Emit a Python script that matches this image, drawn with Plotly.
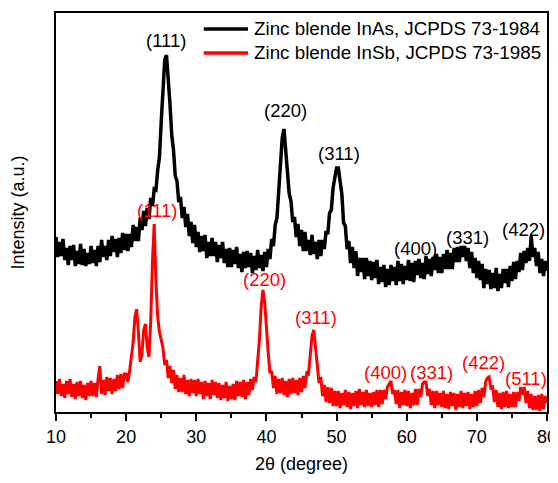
import numpy as np
import plotly.graph_objects as go

# 2-theta sampling grid (degrees), step 0.25
two_theta = np.round(np.arange(10.0, 80.0001, 0.25), 2)

# Zinc blende InAs (black), intensity a.u.
inas = [
    175, 155, 170, 156, 173, 152, 164, 147, 166, 152, 167, 146, 161, 148, 168, 147, 163, 146, 159, 148,
    166, 149, 162, 146, 166, 150, 172, 155, 166, 152, 172, 156, 176, 160, 173, 155, 174, 159, 179, 162,
    178, 161, 178, 165, 187, 171, 185, 171, 194, 182, 201, 186, 204, 193, 214, 206, 223, 222, 242, 255,
    290, 327, 352, 357, 336, 308, 277, 262, 236, 231, 210, 215, 194, 205, 185, 198, 176, 190, 169, 187,
    165, 180, 160, 176, 161, 177, 154, 170, 156, 174, 156, 170, 150, 167, 154, 170, 149, 163, 145, 164,
    145, 162, 148, 165, 144, 158, 140, 160, 144, 161, 145, 159, 139, 156, 142, 162, 144, 157, 141, 160,
    145, 163, 153, 173, 166, 187, 194, 225, 247, 274, 283, 262, 245, 218, 211, 190, 195, 175, 188, 166,
    182, 161, 180, 161, 172, 157, 177, 158, 170, 153, 172, 156, 172, 163, 181, 178, 199, 202, 224, 233,
    244, 244, 231, 218, 189, 186, 163, 171, 149, 165, 144, 161, 136, 154, 140, 154, 133, 154, 136, 151,
    132, 150, 134, 152, 128, 145, 130, 147, 125, 143, 127, 147, 131, 145, 127, 151, 131, 148, 128, 146,
    132, 152, 131, 149, 130, 151, 137, 153, 134, 149, 133, 156, 138, 153, 136, 155, 142, 158, 139, 155,
    139, 158, 143, 162, 143, 159, 143, 164, 150, 165, 150, 166, 155, 166, 151, 164, 144, 160, 139, 154,
    134, 151, 132, 148, 124, 143, 128, 142, 123, 139, 124, 144, 121, 138, 124, 143, 129, 143, 125, 146,
    131, 150, 133, 151, 140, 159, 142, 161, 149, 164, 151, 176, 155, 164, 146, 160, 139, 153, 136, 151,
    141,
]

# Zinc blende InSb (red), intensity a.u.
insb = [
    31, 18, 33, 16, 28, 14, 31, 18, 33, 15, 28, 13, 30, 16, 31, 14, 27, 12, 29, 16,
    31, 16, 29, 15, 33, 46, 18, 32, 17, 35, 21, 34, 18, 33, 21, 37, 23, 38, 24, 38,
    38, 30, 41, 55, 70, 95, 103, 80, 50, 58, 82, 88, 65, 55, 90, 150, 188, 130, 95, 80,
    70, 64, 47, 52, 34, 46, 29, 42, 23, 37, 20, 34, 20, 37, 18, 32, 16, 33, 19, 32,
    16, 33, 18, 30, 13, 31, 16, 29, 13, 32, 17, 30, 14, 29, 12, 27, 14, 30, 11, 26,
    13, 28, 12, 31, 16, 30, 15, 32, 13, 30, 17, 33, 22, 35, 30, 49, 72, 105, 122, 110,
    80, 60, 39, 41, 24, 36, 18, 33, 19, 34, 17, 31, 15, 33, 18, 34, 19, 32, 17, 34,
    20, 36, 24, 39, 38, 59, 76, 82, 60, 47, 29, 35, 16, 27, 10, 25, 9, 24, 6, 21,
    6, 21, 4, 19, 7, 22, 5, 20, 3, 19, 6, 21, 4, 23, 7, 20, 5, 22, 6, 19,
    5, 20, 7, 22, 5, 22, 8, 22, 13, 25, 28, 31, 18, 22, 8, 22, 4, 20, 7, 22,
    6, 21, 4, 19, 7, 23, 7, 23, 15, 28, 30, 30, 16, 23, 7, 21, 4, 21, 7, 19,
    5, 21, 4, 18, 3, 20, 6, 19, 2, 18, 5, 21, 4, 19, 6, 20, 3, 18, 5, 21,
    6, 22, 9, 24, 15, 30, 34, 35, 24, 25, 10, 22, 5, 19, 3, 20, 5, 21, 4, 18,
    5, 20, 5, 20, 11, 25, 17, 25, 9, 21, 4, 18, 2, 16, 2, 17, 1, 18, 3, 16,
    9,
]

series_names = ["Zinc blende InAs, JCPDS 73-1984", "Zinc blende InSb, JCPDS 73-1985"]
series_colors = ["black", "red"]

# Peak labels (hkl)
inas_labels = ["(111)", "(220)", "(311)", "(400)", "(331)", "(422)"]
inas_label_x = [25.7, 42.7, 50.3, 61.3, 68.6, 76.7]
inas_label_y = [372, 302, 259, 164, 175, 183]

insb_labels = ["(111)", "(220)", "(311)", "(400)", "(331)", "(422)", "(511)"]
insb_label_x = [24.4, 39.7, 47.0, 57.0, 63.6, 70.9, 77.0]
insb_label_y = [202, 133, 95, 40, 40, 50, 34]

x_ticks = [10, 20, 30, 40, 50, 60, 70, 80]

FONT = "Liberation Sans, Arial, Helvetica, sans-serif"

fig = go.Figure()
fig.add_trace(go.Scatter(x=two_theta, y=inas, mode="lines", name=series_names[0],
                         line=dict(color=series_colors[0], width=3.5), showlegend=False))
fig.add_trace(go.Scatter(x=two_theta, y=insb, mode="lines", name=series_names[1],
                         line=dict(color=series_colors[1], width=3), showlegend=False))

annotations = []
for t, x, y in zip(inas_labels, inas_label_x, inas_label_y):
    annotations.append(dict(x=x, y=y, text=t, showarrow=False, xref="x", yref="y",
                            font=dict(family=FONT, size=18.5, color="black")))
for t, x, y in zip(insb_labels, insb_label_x, insb_label_y):
    annotations.append(dict(x=x, y=y, text=t, showarrow=False, xref="x", yref="y",
                            font=dict(family=FONT, size=18.5, color="red")))

# Legend drawn inside the frame (top right)
shapes = []
leg_y = [0.960, 0.900]
for name, col, ly in zip(series_names, series_colors, leg_y):
    shapes.append(dict(type="line", xref="paper", yref="paper", x0=0.301, x1=0.391, y0=ly, y1=ly,
                       line=dict(color=col, width=3.5)))
    annotations.append(dict(x=0.399, y=ly, xref="paper", yref="paper", text=name, showarrow=False,
                            xanchor="left", yanchor="middle",
                            font=dict(family=FONT, size=18.8, color="black")))

# The page body has an 8px default margin, so the figure is sized/margined to compensate
fig.update_layout(
    width=550, height=475,
    margin=dict(l=48, r=11, t=5, b=71),
    paper_bgcolor="white", plot_bgcolor="white",
    font=dict(family=FONT, size=18, color="black"),
    showlegend=False,
    annotations=annotations,
    shapes=shapes,
)
fig.update_xaxes(range=[10, 80], tickvals=x_ticks, ticks="outside", ticklen=7, tickwidth=2,
                 tickcolor="black", showline=True, linewidth=2, linecolor="black", mirror=True,
                 showgrid=False, zeroline=False, automargin=False,
                 minor=dict(dtick=5, tick0=10, ticks="outside", ticklen=4, tickwidth=2, tickcolor="black"),
                 title=dict(text="2θ (degree)", font=dict(family=FONT, size=18), standoff=12),
                 tickfont=dict(family=FONT, size=18))
fig.update_yaxes(range=[0, 399], showticklabels=False, ticks="", showline=True, linewidth=2,
                 linecolor="black", mirror=True, showgrid=False, zeroline=False, automargin=False,
                 title=dict(text="Intensity (a.u.)", font=dict(family=FONT, size=18), standoff=26))

fig.write_html("out.html")
